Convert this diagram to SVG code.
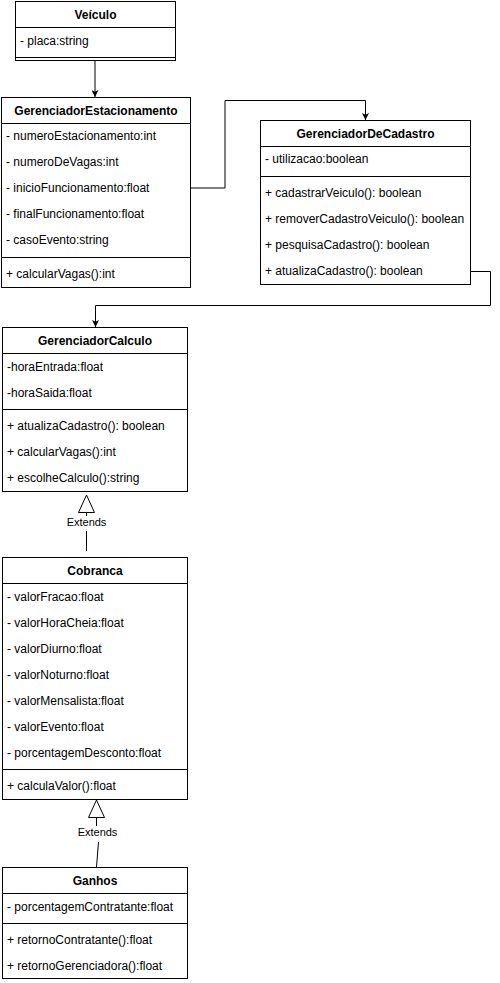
<svg xmlns="http://www.w3.org/2000/svg" width="500" height="983" viewBox="0 0 500 983">
<defs>
<style>
.box{fill:#fff;stroke:#000;stroke-width:1}
.ln{stroke:#000;stroke-width:1;fill:none}
.t{font-family:"Liberation Sans",Arial,sans-serif;font-size:12px;fill:#000}
.h{font-family:"Liberation Sans",Arial,sans-serif;font-size:12px;font-weight:bold;fill:#000;text-anchor:middle}
.lb{font-family:"Liberation Sans",Arial,sans-serif;font-size:11px;fill:#000;text-anchor:middle}
</style>
<marker id="arr" viewBox="0 0 10 10" refX="10" refY="5" markerWidth="7" markerHeight="7" markerUnits="userSpaceOnUse" orient="auto">
<path d="M0,0 L10,5 L0,10 L2.5,5 Z" fill="#000"/>
</marker>
</defs>
<rect width="500" height="983" fill="#fff"/>
<g id="connectors">
<path class="ln" d="M95,61 V97" marker-end="url(#arr)"/>
<path class="ln" d="M190,188 H225 V100.5 H365.5 V120" marker-end="url(#arr)"/>
<path class="ln" d="M471,271.5 H490.5 V305.5 H95.5 V327" marker-end="url(#arr)"/>
<path class="ln" d="M86.5,495 L94.5,512.5 H78.5 Z" fill="#fff"/>
<path class="ln" d="M86.5,512.5 V516"/>
<path class="ln" d="M86.5,531 V551"/>
<rect x="66" y="516" width="41" height="13" fill="#fff"/>
<text class="lb" x="86.5" y="526">Extends</text>
<path class="ln" d="M96.5,800 L104.5,817.5 H88.5 Z" fill="#fff"/>
<path class="ln" d="M96.5,817.5 V826"/>
<path class="ln" d="M98.5,842 L96.5,867"/>
<rect x="76" y="826" width="41" height="13" fill="#fff"/>
<text class="lb" x="97.5" y="836">Extends</text>
</g>
<g id="veiculo">
<rect class="box" x="15.5" y="1.5" width="160" height="59"/>
<line class="ln" x1="15.5" y1="27.5" x2="175.5" y2="27.5"/>
<line class="ln" x1="15.5" y1="57.5" x2="175.5" y2="57.5"/>
<text class="h" x="95.5" y="19">Veículo</text>
<text class="t" x="20" y="45">- placa:string</text>
</g>
<g id="gerenciadorEstacionamento">
<rect class="box" x="1.5" y="97.5" width="189" height="190"/>
<line class="ln" x1="1.5" y1="123.5" x2="190.5" y2="123.5"/>
<line class="ln" x1="1.5" y1="257.5" x2="190.5" y2="257.5"/>
<text class="h" x="96" y="115">GerenciadorEstacionamento</text>
<text class="t" x="6" y="140">- numeroEstacionamento:int</text>
<text class="t" x="6" y="166">- numeroDeVagas:int</text>
<text class="t" x="6" y="192">- inicioFuncionamento:float</text>
<text class="t" x="6" y="218">- finalFuncionamento:float</text>
<text class="t" x="6" y="244">- casoEvento:string</text>
<text class="t" x="6" y="278">+ calcularVagas():int</text>
</g>
<g id="gerenciadorDeCadastro">
<rect class="box" x="260.5" y="120.5" width="210" height="164"/>
<line class="ln" x1="260.5" y1="146.5" x2="470.5" y2="146.5"/>
<line class="ln" x1="260.5" y1="176.5" x2="470.5" y2="176.5"/>
<text class="h" x="365.5" y="138">GerenciadorDeCadastro</text>
<text class="t" x="265" y="163">- utilizacao:boolean</text>
<text class="t" x="265" y="197">+ cadastrarVeiculo(): boolean</text>
<text class="t" x="265" y="223">+ removerCadastroVeiculo(): boolean</text>
<text class="t" x="265" y="249">+ pesquisaCadastro(): boolean</text>
<text class="t" x="265" y="275">+ atualizaCadastro(): boolean</text>
</g>
<g id="gerenciadorCalculo">
<rect class="box" x="2.5" y="327.5" width="185" height="164"/>
<line class="ln" x1="2.5" y1="353.5" x2="187.5" y2="353.5"/>
<line class="ln" x1="2.5" y1="409.5" x2="187.5" y2="409.5"/>
<text class="h" x="95" y="345">GerenciadorCalculo</text>
<text class="t" x="7" y="371">-horaEntrada:float</text>
<text class="t" x="7" y="397">-horaSaida:float</text>
<text class="t" x="7" y="430">+ atualizaCadastro(): boolean</text>
<text class="t" x="7" y="456">+ calcularVagas():int</text>
<text class="t" x="7" y="482">+ escolheCalculo():string</text>
</g>
<g id="cobranca">
<rect class="box" x="2.5" y="557.5" width="185" height="242"/>
<line class="ln" x1="2.5" y1="583.5" x2="187.5" y2="583.5"/>
<line class="ln" x1="2.5" y1="769.5" x2="187.5" y2="769.5"/>
<text class="h" x="95" y="575">Cobranca</text>
<text class="t" x="7" y="601">- valorFracao:float</text>
<text class="t" x="7" y="627">- valorHoraCheia:float</text>
<text class="t" x="7" y="653">- valorDiurno:float</text>
<text class="t" x="7" y="679">- valorNoturno:float</text>
<text class="t" x="7" y="705">- valorMensalista:float</text>
<text class="t" x="7" y="731">- valorEvento:float</text>
<text class="t" x="7" y="757">- porcentagemDesconto:float</text>
<text class="t" x="7" y="790">+ calculaValor():float</text>
</g>
<g id="ganhos">
<rect class="box" x="2.5" y="867.5" width="185" height="111"/>
<line class="ln" x1="2.5" y1="893.5" x2="187.5" y2="893.5"/>
<line class="ln" x1="2.5" y1="923.5" x2="187.5" y2="923.5"/>
<text class="h" x="95" y="885">Ganhos</text>
<text class="t" x="7" y="911">- porcentagemContratante:float</text>
<text class="t" x="7" y="944">+ retornoContratante():float</text>
<text class="t" x="7" y="970">+ retornoGerenciadora():float</text>
</g>
</svg>
